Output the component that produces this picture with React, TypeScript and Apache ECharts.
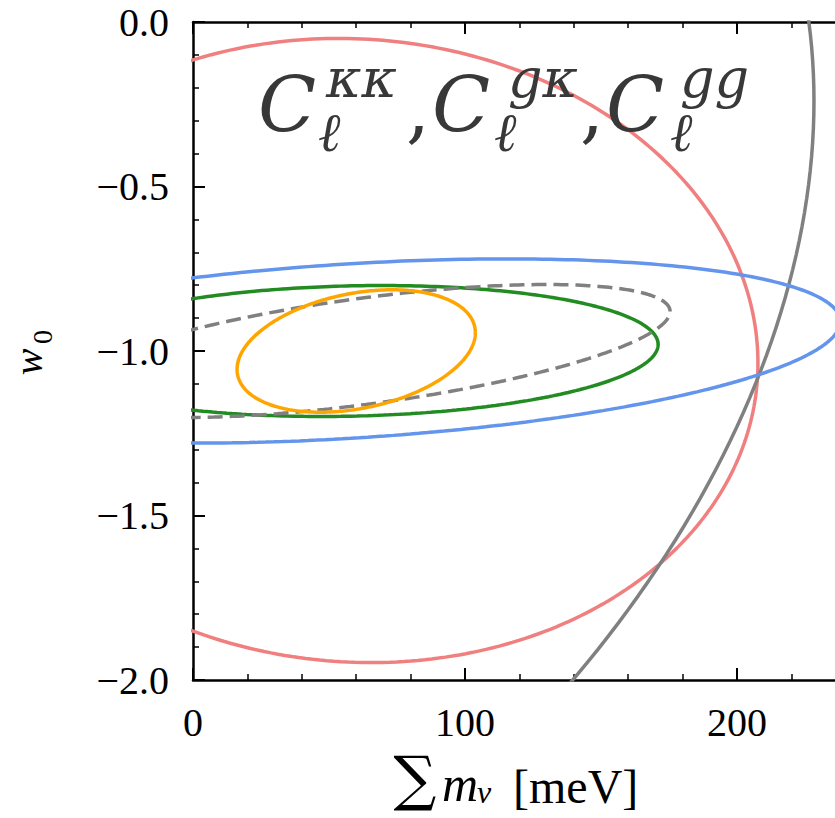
import React, { useEffect, useRef } from 'react';
import * as echarts from 'echarts';

// Axis ticks
const xMajorTicks = [0, 100, 200];
const yMajorTicks = [-2.0, -1.5, -1.0, -0.5, 0.0];

// 1-sigma Fisher ellipse parameters
const ellipseNames = ['Cκκ only', 'Cgg only', 'Cκκ + Cgκ', 'Cκκ + Cgκ + Cgg', 'Cgκ + Cgg', 'Combined'];
const centerMnu = [59.5, -128.7, 58.0, 58.3, 63.6, 60.0];
const centerW0 = [-0.9985, -1.0, -1.0, -1.0, -1.0, -1.0];
const sigmaMnu = [148.2, 357.0, 180.0, 112.7, 111.8, 43.8];
const sigmaW0 = [0.9485, 2.5, 0.28, 0.199, 0.202, 0.186];
const corrCoef = [-0.04, 0.304, 0.32, 0.1, 0.594, 0.3];

const lineColors = ['#f08080', '#808080', '#6495ed', '#228b22', '#808080', '#ffa500'];
const lineDashed = [false, false, false, false, true, false];

const SERIF = '"Liberation Serif", "DejaVu Serif", serif';
const TITLE_SERIF = '"DejaVu Serif", "Liberation Serif", serif';

function ellipsePoints(i: number): number[][] {
  const pts: number[][] = [];
  const n = 360;
  const r = Math.sqrt(1 - corrCoef[i] * corrCoef[i]);
  for (let k = 0; k <= n; k++) {
    const t = (2 * Math.PI * k) / n;
    const c = Math.cos(t);
    const s = Math.sin(t);
    pts.push([
      centerMnu[i] + sigmaMnu[i] * c,
      centerW0[i] + sigmaW0[i] * (corrCoef[i] * c + r * s),
    ]);
  }
  return pts;
}

const fmtY = (v: number) => (yMajorTicks.indexOf(v) >= 0 ? v.toFixed(1).replace('-', '\u2212') : '');
const fmtX = (v: number) => (xMajorTicks.indexOf(v) >= 0 ? String(v) : '');

const mkLine = () => ({ show: true, onZero: false, lineStyle: { color: '#000', width: 2.5 } });
const mkTick = () => ({ show: true, inside: true, length: 12, lineStyle: { color: '#000', width: 2 } });
const mkMinor = () => ({ show: true, splitNumber: 5, length: 6, lineStyle: { color: '#000', width: 1.5 } });

export default function App() {
  const ref = useRef<HTMLDivElement>(null);
  useEffect(() => {
    if (!ref.current) return;
    const chart = echarts.init(ref.current, null, { renderer: 'svg' });

    const titleColor = '#383838';
    const titleParts = [
      { t: 'C', x: 258, y: 104, s: 76, it: true },
      { t: 'κκ', x: 326, y: 78, s: 54, it: true },
      { t: 'ℓ', x: 318, y: 132, s: 54, it: true },
      { t: ',', x: 406, y: 108, s: 76, it: false },
      { t: 'C', x: 432, y: 104, s: 76, it: true },
      { t: 'gκ', x: 508, y: 78, s: 54, it: true },
      { t: 'ℓ', x: 494, y: 132, s: 54, it: true },
      { t: ',', x: 580, y: 108, s: 76, it: false },
      { t: 'C', x: 606, y: 104, s: 76, it: true },
      { t: 'gg', x: 680, y: 78, s: 54, it: true },
      { t: 'ℓ', x: 670, y: 132, s: 54, it: true },
    ];

    const graphics: any[] = titleParts.map((p) => ({
      type: 'text',
      x: p.x,
      y: p.y,
      z: 100,
      style: {
        text: p.t,
        fill: titleColor,
        font: `${p.it ? 'italic ' : ''}${p.s}px ${TITLE_SERIF}`,
        textAlign: 'left',
        textVerticalAlign: 'middle',
      },
    }));

    // y axis name: w_0 (rotated)
    graphics.push(
      {
        type: 'text',
        x: 28,
        y: 362,
        rotation: Math.PI / 2,
        style: { text: 'w', fill: '#000', font: `italic 40px ${SERIF}`, textAlign: 'center', textVerticalAlign: 'middle' },
      },
      {
        type: 'text',
        x: 42,
        y: 337,
        rotation: Math.PI / 2,
        style: { text: '0', fill: '#000', font: `28px ${SERIF}`, textAlign: 'center', textVerticalAlign: 'middle' },
      }
    );

    // x axis name: ∑ m_ν [meV]
    graphics.push(
      {
        type: 'text',
        x: 415,
        y: 778,
        style: { text: '∑', fill: '#000', font: `60px "DejaVu Serif", serif`, textAlign: 'center', textVerticalAlign: 'middle' },
      },
      {
        type: 'text',
        x: 442,
        y: 784,
        style: { text: 'm', fill: '#000', font: `italic 50px ${SERIF}`, textAlign: 'left', textVerticalAlign: 'middle' },
      },
      {
        type: 'text',
        x: 477,
        y: 792,
        style: { text: 'ν', fill: '#000', font: `italic 32px ${SERIF}`, textAlign: 'left', textVerticalAlign: 'middle' },
      },
      {
        type: 'text',
        x: 513,
        y: 786,
        style: { text: '[meV]', fill: '#000', font: `48px ${SERIF}`, textAlign: 'left', textVerticalAlign: 'middle' },
      }
    );

    const series = ellipseNames.map((name, i) => ({
      name,
      type: 'line',
      xAxisIndex: 0,
      yAxisIndex: 0,
      data: ellipsePoints(i),
      showSymbol: false,
      symbol: 'none',
      smooth: false,
      clip: true,
      lineStyle: {
        color: lineColors[i],
        width: 3.5,
        type: lineDashed[i] ? [15, 7] : 'solid',
      },
      z: 2 + i,
    }));

    chart.setOption({
      animation: false,
      backgroundColor: '#fff',
      grid: {
        left: 193,
        top: 22,
        width: 816,
        height: 658,
        containLabel: false,
        outerBoundsMode: 'none',
      },
      xAxis: [
        {
          type: 'value',
          min: 0,
          max: 300,
          interval: 100,
          position: 'bottom',
          axisLine: mkLine(),
          axisTick: mkTick(),
          minorTick: mkMinor(),
          splitLine: { show: false },
          minorSplitLine: { show: false },
          axisLabel: {
            show: true,
            color: '#000',
            fontFamily: SERIF,
            fontSize: 40,
            margin: 22,
            showMaxLabel: false,
            formatter: fmtX,
          },
        },
        {
          type: 'value',
          min: 0,
          max: 300,
          interval: 100,
          position: 'top',
          axisLine: mkLine(),
          axisTick: mkTick(),
          minorTick: mkMinor(),
          splitLine: { show: false },
          minorSplitLine: { show: false },
          axisLabel: { show: false },
        },
      ],
      yAxis: {
        type: 'value',
        min: -2,
        max: 0,
        interval: 0.5,
        position: 'left',
        axisLine: mkLine(),
        axisTick: mkTick(),
        minorTick: mkMinor(),
        splitLine: { show: false },
        minorSplitLine: { show: false },
        axisLabel: {
          color: '#000',
          fontFamily: SERIF,
          fontSize: 40,
          margin: 24,
          formatter: fmtY,
        },
      },
      series,
      graphic: graphics,
    });

    return () => chart.dispose();
  }, []);

  return (
    <div
      ref={ref}
      style={{ position: 'fixed', left: 0, top: 0, width: 835, height: 818, overflow: 'hidden', background: '#fff' }}
    />
  );
}
